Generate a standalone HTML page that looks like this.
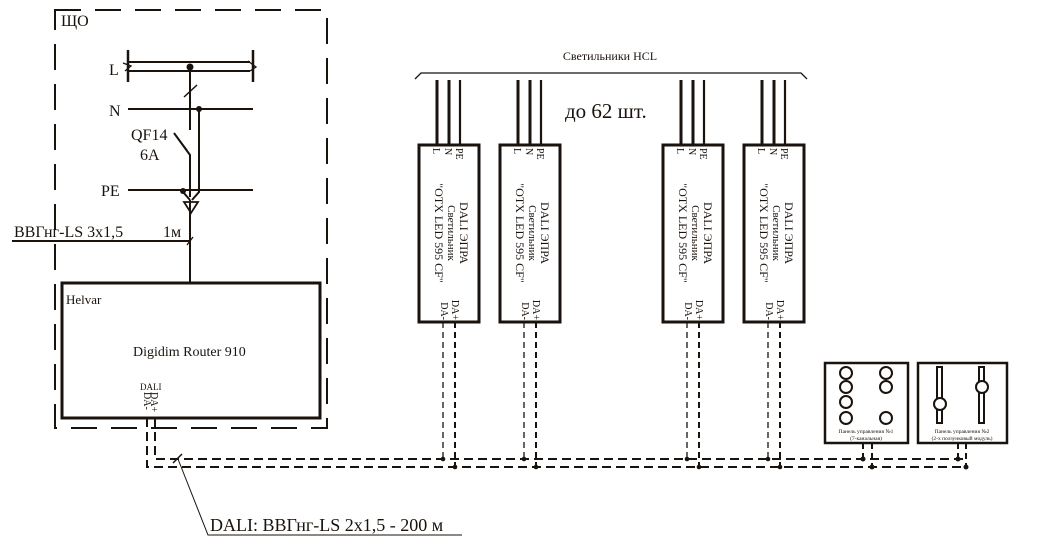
<!DOCTYPE html>
<html><head><meta charset="utf-8"><style>
html,body{margin:0;padding:0;background:#fff;}
svg{display:block;}
svg text{font-family:"Liberation Serif","DejaVu Serif",serif;}
</style></head><body>
<svg width="1047" height="548" viewBox="0 0 1047 548" xmlns="http://www.w3.org/2000/svg" font-family="Liberation Serif, serif">
<g fill="none" stroke="#1a120c">
<path d="M55 10 H327 V428 H55 Z" stroke-width="2" stroke-dasharray="26 14"/>
<path d="M128 50 V82 M253 50 V82" stroke-width="2.5"/>
<path d="M128 62 H250 M128 71 H250" stroke-width="2"/>
<path d="M123 63 L131 66 L125 71 M248 61 L256 67 L250 71" stroke-width="1.3"/>
<path d="M128 109 H253 M128 190 H253" stroke-width="2"/>
<path d="M190 67 V130" stroke-width="2"/>
<path d="M184 97 L197 85" stroke-width="1.5"/>
<path d="M174 133 L190 155 V197" stroke-width="2"/>
<path d="M177 137 L187 150" stroke-width="1.3"/>
<path d="M199 109 V192 L192 200" stroke-width="2"/>
<path d="M183 192 L190 200" stroke-width="2"/>
<path d="M184 202 H198 L191 213 Z" stroke-width="1.8"/>
<path d="M190 200 V283" stroke-width="2"/>
<path d="M12 241 H190" stroke-width="2"/>
<path d="M187 245 L193 237" stroke-width="1.3"/>
<rect x="62" y="283" width="258" height="135" stroke-width="3"/>
<path d="M155 418 V459 H965" stroke-width="2" stroke-dasharray="9 5"/>
<path d="M147 418 V467 H965" stroke-width="2" stroke-dasharray="9 5"/>
<path d="M173 463 L182 454" stroke-width="1.5"/>
<path d="M178 459 L208 535 H462" stroke-width="1"/>
<path d="M415 79 L421 73 H801 L807 79" stroke-width="1.3"/>
<rect x="825" y="363" width="83" height="80" stroke-width="2.5"/>
<rect x="918" y="363" width="89" height="80" stroke-width="2.5"/>
<g stroke-width="2">
<circle cx="846" cy="373" r="6"/><circle cx="846" cy="387" r="6"/><circle cx="846" cy="402" r="6"/><circle cx="846" cy="418" r="6"/>
<circle cx="886" cy="373" r="6"/><circle cx="886" cy="387" r="6"/><circle cx="886" cy="418" r="6"/>
<rect x="937" y="367" width="5" height="56"/><rect x="979" y="367" width="5" height="56"/>
</g>
<circle cx="940" cy="404" r="6" fill="#fff" stroke-width="2"/>
<circle cx="982" cy="387" r="6" fill="#fff" stroke-width="2"/>
<path d="M863 443 V459 M872 443 V467 M958 443 V459 M966 443 V467" stroke-width="2" stroke-dasharray="6 4"/>
</g>
<g fill="#1a120c">
<circle cx="190" cy="67" r="3.5"/><circle cx="199" cy="109" r="3"/><circle cx="183" cy="191" r="3"/>
<circle cx="863" cy="459" r="2.5"/><circle cx="872" cy="467" r="2.5"/>
<circle cx="958" cy="459" r="2.5"/><circle cx="966" cy="467" r="2.5"/>
</g>
<defs>
<g id="lum">
<g fill="none" stroke="#1a120c">
<path d="M18 80 V145 M30 80 V145" stroke-width="3"/>
<path d="M41 80 V145" stroke-width="2.2"/>
<rect x="0" y="145" width="60" height="177" stroke-width="3"/>
<path d="M24 322 V459" stroke-width="1.3" stroke-dasharray="6 4"/>
<path d="M36 322 V467" stroke-width="2" stroke-dasharray="6 4"/>
</g>
<circle cx="24" cy="459" r="2.3" fill="#1a120c"/>
<circle cx="36" cy="467" r="2.3" fill="#1a120c"/>
<g fill="#1a120c" font-size="10">
<text transform="translate(14,148) rotate(90)">L</text>
<text transform="translate(26,148) rotate(90)">N</text>
<text transform="translate(37,148) rotate(90)">PE</text>
<text transform="translate(22,320) rotate(90)" text-anchor="end">DA-</text>
<text transform="translate(33,320) rotate(90)" text-anchor="end">DA+</text>
<text transform="translate(41,233) rotate(90)" text-anchor="middle" font-size="12">DALI ЭПРА</text>
<text transform="translate(29,233) rotate(90)" text-anchor="middle" font-size="11">Светильник</text>
<text transform="translate(16,233) rotate(90)" text-anchor="middle" font-size="12">"OTX LED 595 CF"</text>
</g>
</g>
</defs>
<use href="#lum" x="419"/>
<use href="#lum" x="500"/>
<use href="#lum" x="663"/>
<use href="#lum" x="744"/>
<g fill="#1a120c">
<text x="61" y="26" font-size="16">ЩО</text>
<text x="109" y="75" font-size="16">L</text>
<text x="109" y="116" font-size="16">N</text>
<text x="131" y="140" font-size="16">QF14</text>
<text x="140" y="160" font-size="16">6A</text>
<text x="101" y="196" font-size="16">PE</text>
<text x="14" y="237" font-size="16">ВВГнг-LS 3x1,5</text>
<text x="163" y="237" font-size="16">1м</text>
<text x="66" y="304" font-size="13">Helvar</text>
<text x="133" y="356" font-size="14">Digidim Router 910</text>
<text x="140" y="390" font-size="9">DALI</text>
<text transform="translate(144,392) rotate(90)" font-size="10">DA-</text>
<text transform="translate(151,392) rotate(90)" font-size="10">DA+</text>
<text x="610" y="60" font-size="12" text-anchor="middle">Светильники HCL</text>
<text x="565" y="118" font-size="21">до 62 шт.</text>
<text x="210" y="531" font-size="18">DALI: ВВГнг-LS 2x1,5 - 200 м</text>
<text x="866" y="433" font-size="5.5" text-anchor="middle">Панель управления №1</text>
<text x="866" y="440" font-size="5.5" text-anchor="middle">(7-канальная)</text>
<text x="962" y="433" font-size="5.5" text-anchor="middle">Панель управления №2</text>
<text x="962" y="440" font-size="5.5" text-anchor="middle">(2-х ползунковый модуль)</text>
</g>
</svg>
</body></html>
